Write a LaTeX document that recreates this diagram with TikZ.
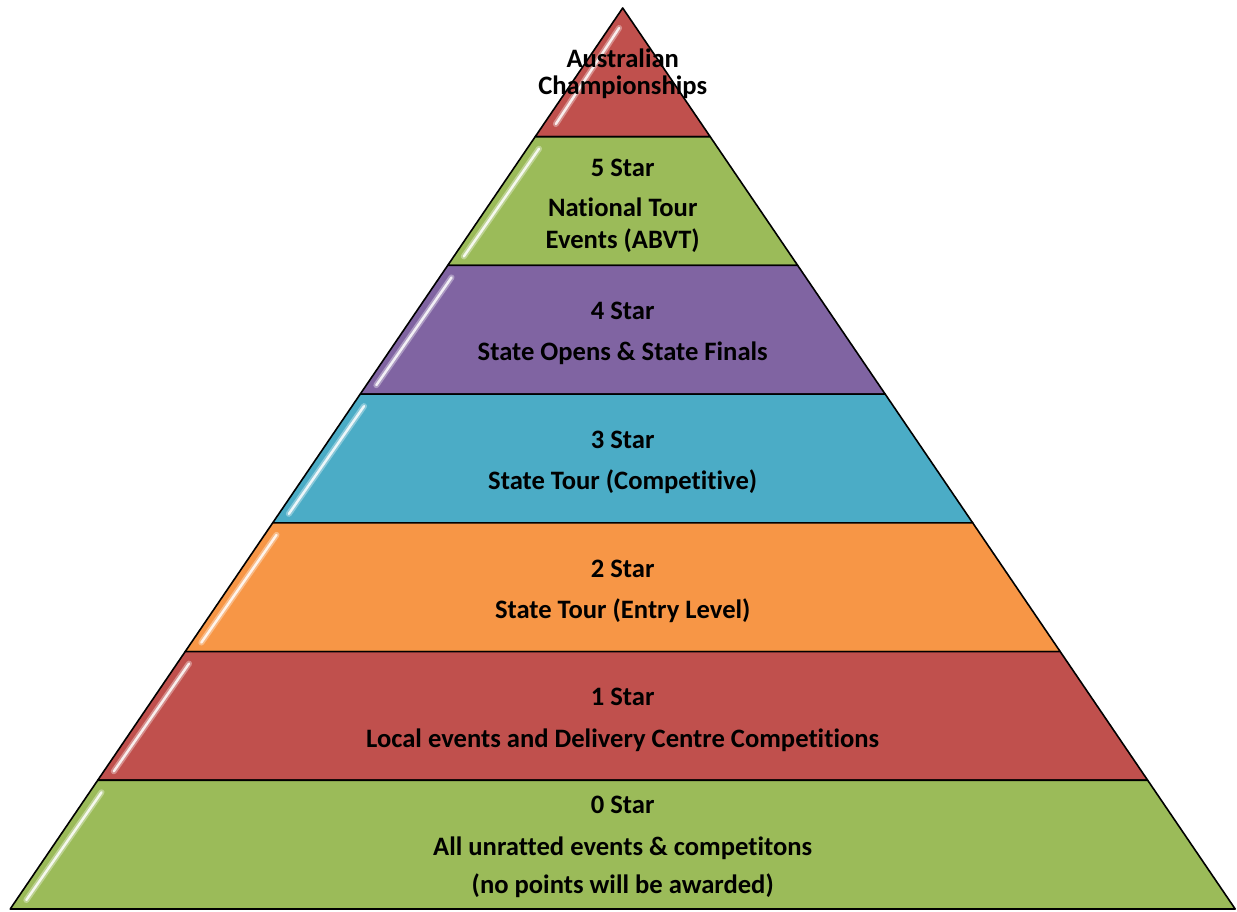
\documentclass[tikz,border=0pt]{standalone}
\usepackage{fontspec}
\setmainfont[RawFeature=-liga]{Carlito}
\definecolor{cred}{HTML}{C0504D}
\definecolor{cgreen}{HTML}{9BBB59}
\definecolor{cpurple}{HTML}{8064A2}
\definecolor{ccyan}{HTML}{4BACC6}
\definecolor{corange}{HTML}{F79646}
\begin{document}
\begin{tikzpicture}[x=1pt,y=-1pt,
  layer/.style={draw=black,line width=1.6pt,line join=round},
  shineglow/.style={white,opacity=0.35,line width=6pt,line cap=round},
  shine/.style={white,opacity=0.85,line width=2.4pt,line cap=round},
  lbl/.style={font=\fontsize{26.6}{30}\selectfont\bfseries,anchor=base,inner sep=0pt}]
\useasboundingbox (0,0) rectangle (1237,911);
\def\cx{622.7}
\def\sl{0.6798}
% top triangle
\fill[cred] (\cx,8) -- (\cx+87.5,136.714) -- (\cx-87.5,136.714) -- cycle;
\pgfmathsetmacro\sya{28}\pgfmathsetmacro\sxa{\cx-\sl*(\sya-8)+10}
\pgfmathsetmacro\syb{124}\pgfmathsetmacro\sxb{\cx-\sl*(\syb-8)+12}
\draw[shineglow] (\sxa,\sya) -- (\sxb,\syb);
\draw[shine] (\sxa,\sya) -- (\sxb,\syb);
\draw[layer] (\cx,8) -- (\cx+87.5,136.714) -- (\cx-87.5,136.714) -- cycle;
% other layers
\foreach \i/\col in {1/cgreen,2/cpurple,3/ccyan,4/corange,5/cred,6/cgreen}{
  \pgfmathsetmacro\yt{8+128.714*\i}
  \pgfmathsetmacro\yb{8+128.714*(\i+1)}
  \pgfmathsetmacro\ht{87.5*\i}
  \pgfmathsetmacro\hb{87.5*(\i+1)}
  \fill[\col] (\cx-\ht,\yt) -- (\cx+\ht,\yt) -- (\cx+\hb,\yb) -- (\cx-\hb,\yb) -- cycle;
  \pgfmathsetmacro\sya{\yt+12}\pgfmathsetmacro\sxa{\cx-\sl*(\sya-8)+12}
  \pgfmathsetmacro\syb{\yb-9}\pgfmathsetmacro\sxb{\cx-\sl*(\syb-8)+10}
  \draw[shineglow] (\sxa,\sya) -- (\sxb,\syb);
  \draw[shine] (\sxa,\sya) -- (\sxb,\syb);
  \draw[layer] (\cx-\ht,\yt) -- (\cx+\ht,\yt) -- (\cx+\hb,\yb) -- (\cx-\hb,\yb) -- cycle;
}
% labels
\node[lbl] (t1) at (\cx,67) {Australian};
\node[lbl] (t2) at (\cx,94) {Championships};
\node[lbl] (f1) at (\cx,176) {5 Star};
\node[lbl] (f2) at (\cx,216) {National Tour};
\node[lbl] (f3) at (\cx,248) {Events (ABVT)};
\node[lbl] (e1) at (\cx,319) {4 Star};
\node[lbl] (e2) at (\cx,360) {State Opens \& State Finals};
\node[lbl] (d1) at (\cx,448) {3 Star};
\node[lbl] (d2) at (\cx,489) {State Tour (Competitive)};
\node[lbl] (c1) at (\cx,577) {2 Star};
\node[lbl] (c2) at (\cx,618) {State Tour (Entry Level)};
\node[lbl] (b1) at (\cx,705) {1 Star};
\node[lbl] (b2) at (\cx,747) {Local events and Delivery Centre Competitions};
\node[lbl] (a1) at (\cx,813) {0 Star};
\node[lbl] (a2) at (\cx,855) {All unratted events \& competitons};
\node[lbl] (a3) at (\cx,893) {(no points will be awarded)};
\end{tikzpicture}
\end{document}
